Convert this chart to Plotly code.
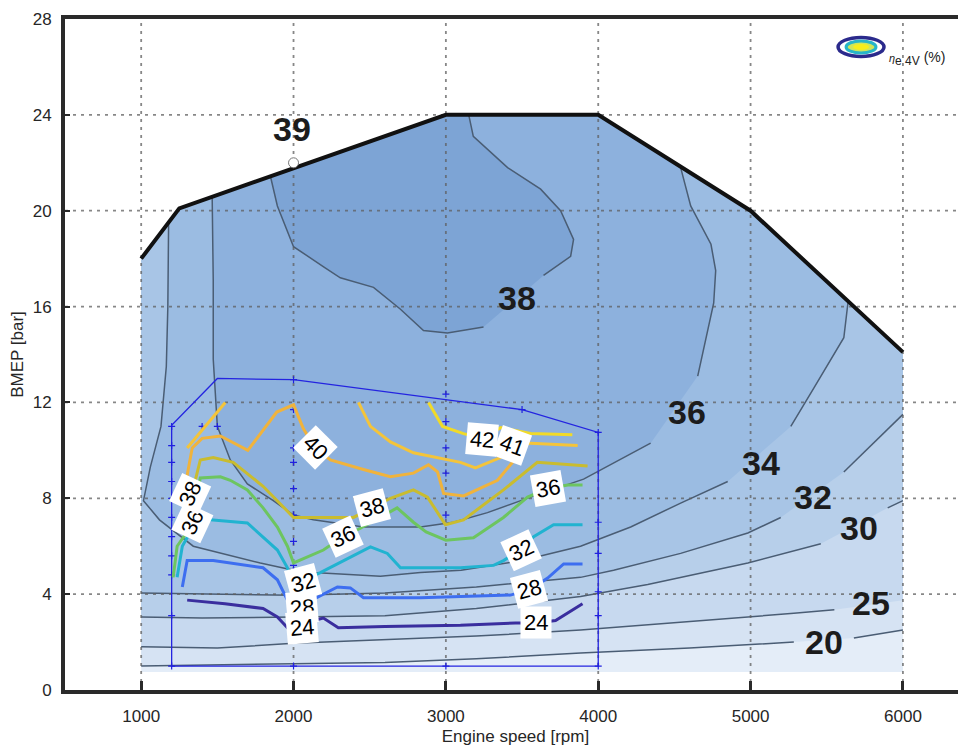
import plotly.graph_objects as go

# ---------------- axes ----------------
x_ticks = [1000, 2000, 3000, 4000, 5000, 6000]
y_ticks = [0, 4, 8, 12, 16, 20, 24, 28]
x_range = [500, 6414]
y_range = [0, 28]

# ---------------- full-load curve (background map) ----------------
fl_rpm = [1000, 1250, 3000, 4000, 5000, 6000]
fl_bmep = [18.0, 20.1, 24.0, 24.0, 20.0, 14.1]
map_floor = 0.75

# background iso-efficiency contours (None = gap for the label)
bg20_x = [1000, 1400, 2000, 2600, 3200, 3884, 4600, 5284, None, 5678, 6000]
bg20_y = [1.0, 1.05, 1.1, 1.15, 1.3, 1.54, 1.75, 2.0, None, 2.17, 2.5]
bg25_x = [1000, 1500, 2000, 2600, 3200, 3884, 4500, 5000, 5284, 5550, None, 6000]
bg25_y = [1.8, 1.75, 1.95, 2.1, 2.25, 2.5, 2.8, 3.05, 3.2, 3.35, None, 3.75]
bg30_x = [1000, 1400, 2000, 2600, 3200, 3884, 4325, 4982, 5461, None, 5900, 6000]
bg30_y = [3.05, 3.0, 3.05, 3.1, 3.4, 3.9, 4.4, 5.3, 6.1, None, 7.6, 7.9]
bg32_x = [1000, 1500, 2000, 2600, 3200, 3884, 4101, 4541, 4982, 5198, None, 5612, 6000]
bg32_y = [4.05, 4.0, 3.95, 4.05, 4.3, 4.7, 5.0, 5.7, 6.55, 7.2, None, 9.1, 11.5]
bg34_x = [5640, 5612, 5415, 5264, None, 4850, 4541, 4213, 3884, 3500, 3100, 2833, 2570,
          2130, 2000, 1782, 1342, 1120, 1015, 1060, 1130, 1165, 1175, 1180]
bg34_y = [16.2, 14.7, 12.6, 11.0, None, 8.7, 7.8, 6.8, 6.0, 5.4, 5.0, 4.9, 4.75,
          4.9, 5.0, 5.3, 6.0, 7.1, 7.9, 9.3, 11.0, 13.5, 16.0, 19.5]
bg36_x = [4541, 4607, 4740, 4771, 4758, 4700, 4653, None, 4344, 3904, 3556, 3273, 3050,
          2833, 2459, 2130, 2000, 1867, 1697, 1585, 1500, 1473, 1473, 1466]
bg36_y = [21.8, 20.2, 18.6, 17.5, 16.15, 14.5, 13.1, None, 10.3, 8.8, 8.05, 7.4, 7.0,
          6.8, 6.8, 7.1, 7.3, 7.9, 8.6, 9.6, 11.0, 13.8, 17.1, 20.6]
bg38_x = [3150, 3180, 3405, 3622, 3753, 3838, 3819, 3641, None, 3247, 3010, 2853, 2700,
          2525, 2307, 2200, 2000, 1894, 1848]
bg38_y = [24.0, 23.1, 21.8, 20.9, 20.0, 18.8, 18.1, 17.3, None, 15.15, 14.9, 15.0, 15.9,
          16.8, 17.2, 17.65, 18.5, 20.2, 21.45]

band_colors = ["#e4edf8", "#d6e3f3", "#c7d9ef", "#b7cfea", "#a8c5e6", "#9bbce2",
               "#8db1dd", "#7da4d5"]

bg_label_text = ["39", "38", "36", "34", "32", "30", "25", "20"]
bg_label_x = [1992, 3470, 4581, 5067, 5409, 5711, 5790, 5481]
bg_label_y = [23.4, 16.36, 11.6, 9.47, 8.06, 6.76, 3.63, 2.0]

peak_x = [2000]
peak_y = [22.0]

# ---------------- measured operating area (overlay) ----------------
area_x = [1200, 1200, 1500, 2000, 3500, 4000, 4000, 1200]
area_y = [1.0, 11.05, 13.0, 12.95, 11.7, 10.75, 1.0, 1.0]
meas_rpm = [1200] * 11 + [1400, 1500] + [2000] * 10 + [3000] * 6 + [3500] + [4000] * 6
meas_bmep = [1.0, 3.1, 4.8, 5.6, 6.4, 7.2, 8.0, 8.7, 9.5, 10.2, 11.0,
             11.0, 11.0,
             1.0, 3.05, 5.2, 6.2, 7.3, 8.4, 9.5, 10.1, 11.7, 12.95,
             1.0, 7.3, 9.05, 10.1, 11.2, 12.35,
             11.7,
             1.0, 3.1, 4.1, 5.7, 7.0, 10.75]

ov24_x = [1302, 1550, 1800, 1894, 1960, 2058, 2130, 2196, 2294, 2600, 3096, 3457, 3590, 3720, 3897]
ov24_y = [3.75, 3.6, 3.4, 3.05, 2.6, 2.6, 2.9, 3.0, 2.6, 2.65, 2.7, 2.8, 2.8, 2.9, 3.6]
ov28_x = [1270, 1302, 1473, 1800, 1894, 1960, 2045, 2156, 2288, 2373, 2459, 2833, 3096, 3424,
          3556, 3668, 3773, 3897]
ov28_y = [4.3, 5.4, 5.4, 5.1, 4.6, 3.75, 3.5, 3.85, 4.3, 4.26, 3.85, 3.85, 3.9, 3.96,
          4.2, 4.67, 5.26, 5.26]
ov32_x = [1236, 1270, 1368, 1453, 1697, 1894, 1960, 2000, 2078, 2176, 2505, 2616, 2702, 3096,
          3313, 3378, 3490, 3576, 3707, 3897]
ov32_y = [4.7, 6.0, 7.1, 7.1, 6.97, 5.84, 5.1, 4.3, 4.6, 4.9, 5.97, 5.7, 5.1, 5.1,
          5.2, 5.4, 5.84, 6.4, 6.9, 6.9]
ov36_x = [1210, 1236, 1302, 1335, 1388, 1520, 1585, 1697, 1800, 1894, 1960, 2000, 2196, 2327,
          2439, 2680, 2787, 2870, 3000, 3181, 3378, 3536, 3668, 3800, 3897]
ov36_y = [4.7, 6.0, 6.6, 7.1, 8.85, 8.9, 8.75, 8.35, 7.6, 6.8, 6.0, 5.3, 5.84, 6.4,
          6.75, 7.6, 7.0, 6.6, 6.25, 6.35, 7.2, 8.05, 8.4, 8.55, 8.55]
ov38_x = [1215, 1300, 1342, 1388, 1473, 1604, 1800, 2000, 2130, 2393, 2518, 2636, 2787, 2879,
          2997, 3116, 3378, 3600, 3930]
ov38_y = [6.8, 7.6, 8.4, 9.6, 9.7, 9.5, 8.5, 7.2, 7.2, 7.2, 7.6, 8.0, 8.35, 8.05,
          6.9, 7.1, 8.35, 9.5, 9.35]
ov40_x = [1300, 1335, 1400, 1520, 1700, 1890, 2000, 2065, 2143, 2242, 2459, 2636, 2787, 2886,
          2945, 2985, 3116, 3339, 3450]
ov40_y = [8.9, 10.1, 10.5, 10.6, 10.0, 11.6, 11.9, 10.9, 10.1, 9.6, 9.2, 8.9, 9.05, 9.4,
          9.1, 8.2, 8.1, 8.75, 9.6]
ov41_x = [1302, 1552, None, 2426, 2505, 2636, 2787, 3096, 3194, 3359, 3437, 3556, 3865]
ov41_y = [10.1, 12.0, None, 12.0, 11.0, 10.35, 9.9, 9.5, 9.27, 9.7, 10.1, 10.3, 10.2]
ov42_x = [2886, 2978, 3116, 3240, 3360, 3556, 3830]
ov42_y = [12.0, 11.0, 10.7, 10.5, 10.95, 10.7, 10.65]

ov_colors = ["#3a2e9e", "#3d6ef0", "#21b3d0", "#6dc560", "#c9bc2f", "#f0b33c", "#f4c43a", "#f1da28"]

ov_label_text = ["36", "38", "40", "36", "38", "32", "28", "24", "32", "28", "24", "36", "42", "41"]
ov_label_x = [1335, 1322, 2143, 2327, 2518, 2064, 2058, 2058, 3490, 3543, 3590, 3668, 3240, 3437]
ov_label_y = [7.0, 8.2, 10.1, 6.4, 7.6, 4.5, 3.45, 2.6, 5.84, 4.2, 2.8, 8.4, 10.45, 10.2]
ov_label_angle = [-65, -65, 45, -25, -15, -15, -5, -5, -25, -15, 0, -10, 5, 20]

# ---------------- helpers ----------------
def region(cx, cy):
    pts = [(x, y) for x, y in zip(cx, cy) if x is not None]
    ax_, _ = pts[0]
    bx_, _ = pts[-1]
    lo, hi = min(ax_, bx_), max(ax_, bx_)
    verts = [(x, y) for x, y in zip(fl_rpm, fl_bmep) if lo <= x <= hi]
    verts.sort(key=lambda p: p[0], reverse=(bx_ > ax_))
    poly = pts + verts + [pts[0]]
    return [p[0] for p in poly], [p[1] for p in poly]


fig = go.Figure()

# filled bands of the background map
contours = [([1000, 6000], [map_floor, map_floor]),
            (bg20_x, bg20_y), (bg25_x, bg25_y), (bg30_x, bg30_y), (bg32_x, bg32_y),
            (bg34_x, bg34_y), (bg36_x, bg36_y), (bg38_x, bg38_y)]
for (cx, cy), col in zip(contours, band_colors):
    px, py = region(cx, cy)
    fig.add_trace(go.Scatter(x=px, y=py, mode="lines", fill="toself", fillcolor=col,
                             line=dict(width=0), hoverinfo="skip", showlegend=False))

# contour lines of the map
for cx, cy in contours[1:]:
    fig.add_trace(go.Scatter(x=cx, y=cy, mode="lines", connectgaps=False,
                             line=dict(color="#4a5d74", width=1.5), hoverinfo="skip",
                             showlegend=False))

# dotted grid (drawn over the map)
gx, gy = [], []
for t in x_ticks:
    gx += [t, t, None]
    gy += [y_range[0], y_range[1], None]
for t in y_ticks[1:-1]:
    gx += [x_range[0], x_range[1], None]
    gy += [t, t, None]
fig.add_trace(go.Scatter(x=gx, y=gy, mode="lines",
                         line=dict(color="rgba(95,95,95,0.75)", width=1.8, dash="3px,5px"),
                         hoverinfo="skip", showlegend=False))

# full-load curve
fig.add_trace(go.Scatter(x=fl_rpm, y=fl_bmep, mode="lines",
                         line=dict(color="#111111", width=4), showlegend=False))

# peak marker
fig.add_trace(go.Scatter(x=peak_x, y=peak_y, mode="markers",
                         marker=dict(size=10, color="white", line=dict(color="#777", width=1)),
                         showlegend=False))

# measured area
fig.add_trace(go.Scatter(x=area_x, y=area_y, mode="lines",
                         line=dict(color="#2424e0", width=1.3), showlegend=False))
fig.add_trace(go.Scatter(x=meas_rpm, y=meas_bmep, mode="markers",
                         marker=dict(symbol="cross-thin", size=5, line=dict(color="#2020e0", width=1.2)),
                         showlegend=False))

# overlay iso-efficiency lines
ov_lines = [(ov24_x, ov24_y), (ov28_x, ov28_y), (ov32_x, ov32_y), (ov36_x, ov36_y),
            (ov38_x, ov38_y), (ov40_x, ov40_y), (ov41_x, ov41_y), (ov42_x, ov42_y)]
for (cx, cy), col in zip(ov_lines, ov_colors):
    fig.add_trace(go.Scatter(x=cx, y=cy, mode="lines", connectgaps=False,
                             line=dict(color=col, width=3), showlegend=False))

annotations = []
bg_font = dict(family="Liberation Sans Narrow, Liberation Sans, Arial, sans-serif",
               size=34, color="#1c1c1c", weight="bold")
for t, x, y in zip(bg_label_text, bg_label_x, bg_label_y):
    annotations.append(dict(x=x, y=y, text=t, showarrow=False, font=bg_font))

for t, x, y, a in zip(ov_label_text, ov_label_x, ov_label_y, ov_label_angle):
    annotations.append(dict(x=x, y=y, text=t, showarrow=False, textangle=a,
                            bgcolor="white", borderpad=3,
                            font=dict(family="Liberation Sans, Arial, sans-serif", size=22,
                                      color="black")))

# legend-like key (figure: 958 x 741 drawn inside an 8 px page margin)
cxp, cyp = 0.8835, 0.9583
annotations.append(dict(xref="paper", yref="paper", x=0.912, y=cyp, xanchor="left",
                        text="<span style='font-size:11px'><i>η</i></span>"
                             "<sub><span style='font-size:12px'>e 4V</span></sub> (%)",
                        showarrow=False,
                        font=dict(family="Liberation Sans, Arial, sans-serif", size=14,
                                  color="#222")))
shapes = [
    dict(type="circle", xref="paper", yref="paper", x0=cxp - 0.0255, x1=cxp + 0.0255,
         y0=cyp - 0.0142, y1=cyp + 0.0142, line=dict(color="#2b2a8c", width=3.5),
         fillcolor="white"),
    dict(type="circle", xref="paper", yref="paper", x0=cxp - 0.0166, x1=cxp + 0.0166,
         y0=cyp - 0.0089, y1=cyp + 0.0089, line=dict(color="#27b5c9", width=3),
         fillcolor="#cfe65a"),
    dict(type="circle", xref="paper", yref="paper", x0=cxp - 0.0089, x1=cxp + 0.0089,
         y0=cyp - 0.0045, y1=cyp + 0.0045, line=dict(width=0), fillcolor="#f6ee1c"),
]

tick_font = dict(family="Liberation Sans Narrow, Liberation Sans, Arial, sans-serif",
                 size=17, color="#262626")
title_font = dict(family="Liberation Sans, Arial, sans-serif", size=17, color="#262626")

fig.update_layout(
    width=958, height=741,
    margin=dict(l=57, r=0, t=11, b=59),
    plot_bgcolor="white", paper_bgcolor="white",
    showlegend=False,
    annotations=annotations,
    shapes=shapes,
    xaxis=dict(range=x_range, tickvals=x_ticks, showgrid=False, zeroline=False,
               showline=True, linewidth=4, linecolor="#2a2a2a", mirror=True,
               ticks="inside", ticklen=9, tickwidth=3, tickcolor="#2a2a2a",
               tickfont=tick_font, ticklabelstandoff=8,
               title=dict(text="Engine speed [rpm]", font=title_font, standoff=6)),
    yaxis=dict(range=y_range, tickvals=y_ticks, showgrid=False, zeroline=False,
               showline=True, linewidth=4, linecolor="#2a2a2a",
               ticks="inside", ticklen=5, tickwidth=2, tickcolor="#2a2a2a",
               tickfont=tick_font, ticklabelstandoff=6,
               title=dict(text="BMEP [bar]", font=title_font, standoff=8)),
)

fig.write_html("out.html")
